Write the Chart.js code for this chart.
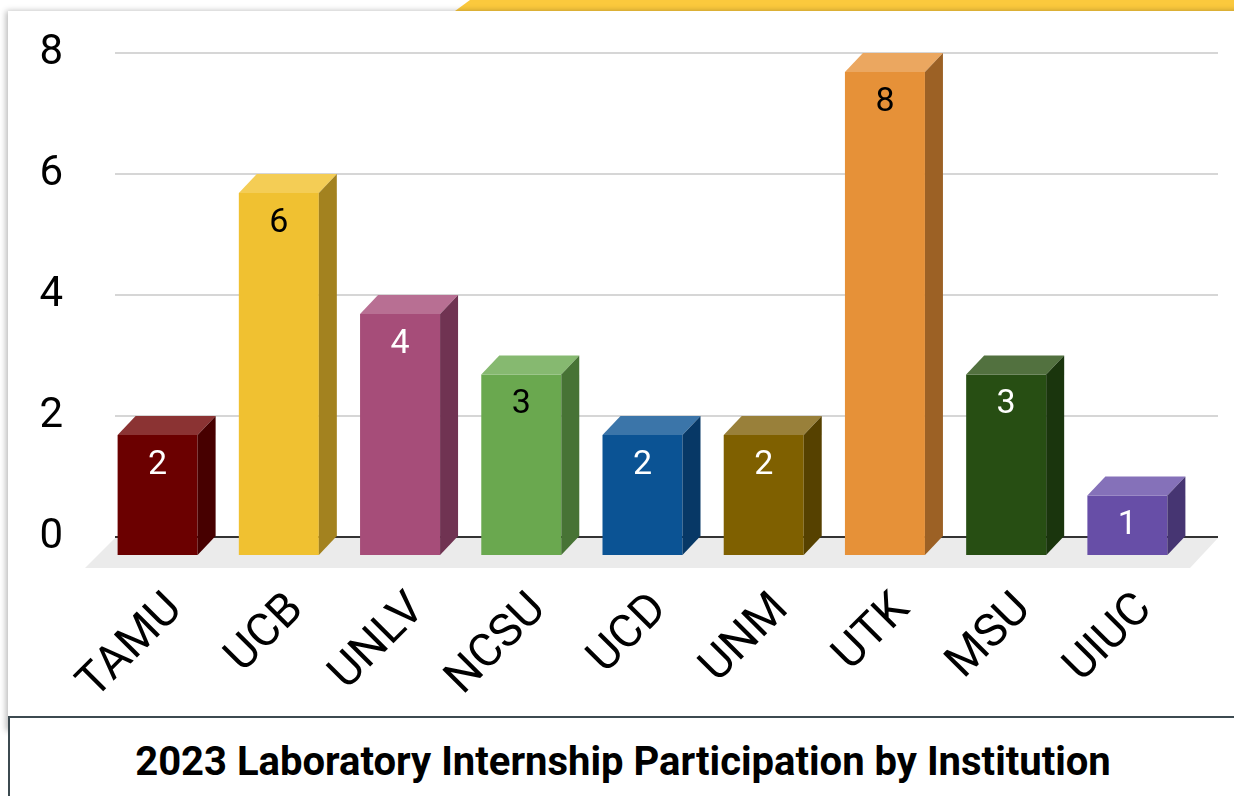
<!DOCTYPE html>
<html>
<head>
<meta charset="utf-8">
<script src="https://cdn.jsdelivr.net/npm/chart.js@4.4.0/dist/chart.umd.min.js"></script>
<style>
  html, body { margin: 0; padding: 0; background: #fff; overflow: hidden; }
  body { width: 1234px; height: 796px; position: relative; font-family: Roboto, sans-serif; }
  .band {
    position: absolute; left: 455px; top: 0; width: 779px; height: 11px;
    background: #fbc93d;
    clip-path: polygon(15px 0, 100% 0, 100% 100%, 0 100%);
  }
  .card {
    position: absolute; left: 8px; top: 11px; width: 1260px; height: 720px;
    background: #fff; box-shadow: -2px 0 6px rgba(0,0,0,0.28);
  }
  .chart-box { position: absolute; left: 0; top: 0; width: 1234px; height: 716px; }
  .title-box {
    position: absolute; left: 8px; top: 716px; width: 1260px; height: 100px;
    border: 2px solid #3c4a50; background: #fff; box-sizing: border-box;
  }
  .title-box div {
    position: absolute; left: 0; width: 1226px; top: 20px; text-align: center;
    font-weight: bold; font-size: 40px; color: #000;
  }
</style>
</head>
<body>
<div class="band"></div>
<div class="card"></div>
<div class="chart-box"><canvas id="chart"></canvas></div>
<div class="title-box"><div>2023 Laboratory Internship Participation by Institution</div></div>

<script>
// chart data
const institutions = ['TAMU', 'UCB', 'UNLV', 'NCSU', 'UCD', 'UNM', 'UTK', 'MSU', 'UIUC'];
const participants = [2, 6, 4, 3, 2, 2, 8, 3, 1];
const yTicks = [0, 2, 4, 6, 8];

// bar face colours (front / top / side)
const frontColors = ['#6b0000', '#f0c131', '#a64d79', '#6aa84f', '#0b5394', '#7f6000', '#e69138', '#274e13', '#674ea7'];
const topColors   = ['#8b3333', '#f4cd55', '#b86f93', '#86b970', '#3b75a9', '#99803a', '#eba760', '#52713f', '#8571b9'];
const sideColors  = ['#470000', '#a3821f', '#703352', '#477335', '#073866', '#564100', '#9c6125', '#1a350d', '#463572'];
const labelColors = ['#fff', '#000', '#fff', '#000', '#fff', '#fff', '#000', '#fff', '#fff'];

const DX = 18, DY = 19;
const GRID_EXT = 12; // grid runs a little past the last category

const bar3d = {
    id: 'bar3d',
    beforeDatasetsDraw(chart) {
        const ctx = chart.ctx;
        const a = chart.chartArea;
        const y = chart.scales.y;
        ctx.save();
        // stretch grid lines to the right edge of the plot
        ctx.lineWidth = 2;
        yTicks.forEach(v => {
            const py = Math.round(y.getPixelForValue(v));
            ctx.strokeStyle = v === 0 ? '#333333' : '#d6d6d6';
            ctx.beginPath();
            ctx.moveTo(a.right - 1, py);
            ctx.lineTo(a.right + GRID_EXT, py);
            ctx.stroke();
        });
        // floor
        ctx.fillStyle = '#ebebeb';
        ctx.beginPath();
        ctx.moveTo(a.left, a.bottom + 1);
        ctx.lineTo(a.right + GRID_EXT, a.bottom + 1);
        ctx.lineTo(a.right + GRID_EXT - 28, a.bottom + 31);
        ctx.lineTo(a.left - 30, a.bottom + 31);
        ctx.closePath();
        ctx.fill();
        ctx.restore();

        ctx.save();
        ctx.translate(-DX, DY);
    },
    afterDatasetsDraw(chart) {
        const ctx = chart.ctx;
        const meta = chart.getDatasetMeta(0);
        meta.data.forEach((bar, i) => {
            const l = bar.x - bar.width / 2;
            const r = bar.x + bar.width / 2;
            const t = bar.y, b = bar.base;

            ctx.fillStyle = topColors[i];
            ctx.beginPath();
            ctx.moveTo(l, t);
            ctx.lineTo(l + DX, t - DY);
            ctx.lineTo(r + DX, t - DY);
            ctx.lineTo(r, t);
            ctx.closePath();
            ctx.fill();

            ctx.fillStyle = sideColors[i];
            ctx.beginPath();
            ctx.moveTo(r, t);
            ctx.lineTo(r + DX, t - DY);
            ctx.lineTo(r + DX, b - DY);
            ctx.lineTo(r, b);
            ctx.closePath();
            ctx.fill();

            ctx.fillStyle = labelColors[i];
            ctx.font = '34px Roboto';
            ctx.textAlign = 'center';
            ctx.textBaseline = 'middle';
            ctx.fillText(String(participants[i]), bar.x, t + 30);
        });
        ctx.restore();
    }
};

new Chart(document.getElementById('chart'), {
    type: 'bar',
    data: {
        labels: institutions,
        datasets: [{
            data: participants,
            backgroundColor: frontColors,
            borderWidth: 0,
            barPercentage: 0.66,
            categoryPercentage: 1
        }]
    },
    options: {
        responsive: true,
        maintainAspectRatio: false,
        animation: false,
        layout: { padding: { top: 53, right: 28, left: 0, bottom: 0 } },
        plugins: {
            legend: { display: false },
            tooltip: { enabled: false }
        },
        scales: {
            y: {
                min: 0,
                max: 8,
                afterFit(scale) {
                    scale.width = 115;
                    scale.paddingTop = 0;
                    scale.paddingBottom = 0;
                },
                afterBuildTicks(scale) { scale.ticks = yTicks.map(v => ({ value: v })); },
                border: { display: false },
                grid: {
                    drawTicks: false,
                    lineWidth: 2,
                    color: (c) => c.tick && c.tick.value === 0 ? '#333333' : '#d6d6d6'
                },
                ticks: {
                    padding: 52,
                    color: '#000',
                    font: { family: 'Roboto', size: 42 }
                }
            },
            x: {
                afterFit(scale) {
                    scale.height = 179;
                    scale.paddingLeft = 0;
                    scale.paddingRight = 0;
                },
                border: { display: false },
                grid: { display: false, drawTicks: false },
                ticks: {
                    autoSkip: false,
                    minRotation: 45,
                    maxRotation: 45,
                    padding: 46,
                    color: '#000',
                    font: { family: 'Roboto', size: 46 }
                }
            }
        }
    },
    plugins: [bar3d]
});
</script>
</body>
</html>
